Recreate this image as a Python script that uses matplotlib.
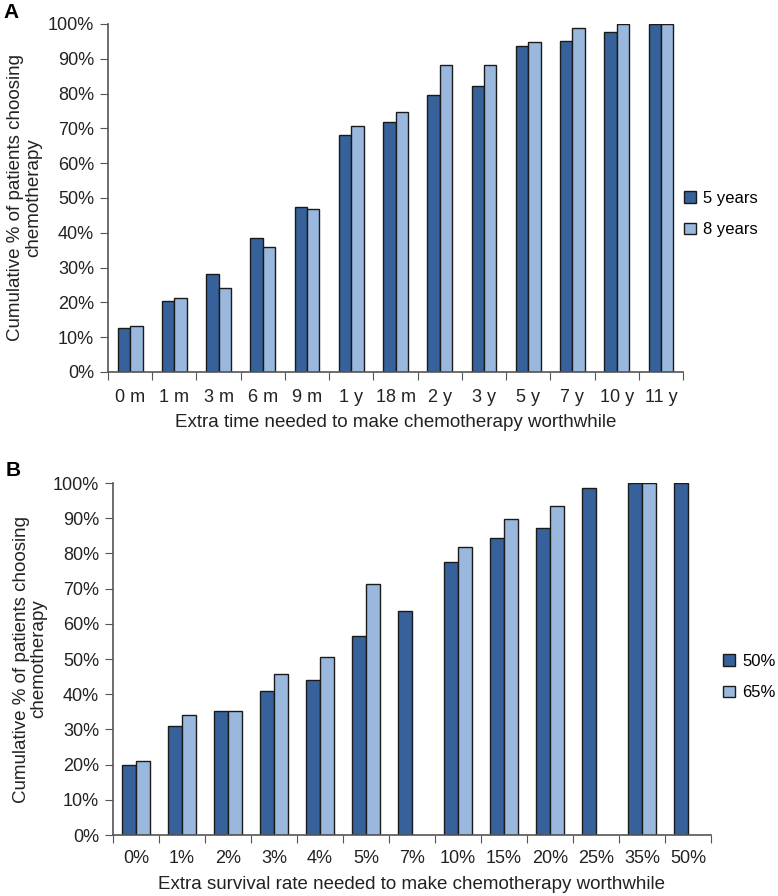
import numpy as np
import matplotlib.pyplot as plt

plt.rcParams['font.family'] = ['Liberation Sans', 'DejaVu Sans']

# Panel A
cats_a = ['0 m', '1 m', '3 m', '6 m', '9 m', '1 y', '18 m', '2 y', '3 y', '5 y', '7 y', '10 y', '11 y']
five_years = [12.7, 20.5, 28.2, 38.5, 47.4, 68.0, 71.8, 79.6, 82.2, 93.8, 95.0, 97.6, 100]
eight_years = [13.2, 21.3, 24.0, 36.0, 46.8, 70.8, 74.8, 88.1, 88.1, 94.8, 98.9, 100, 100]

# Panel B (None = no bar)
cats_b = ['0%', '1%', '2%', '3%', '4%', '5%', '7%', '10%', '15%', '20%', '25%', '35%', '50%']
rate_50 = [19.9, 31.1, 35.3, 41.0, 44.0, 56.4, 63.5, 77.5, 84.5, 87.3, 98.6, 100, 100]
rate_65 = [21.0, 34.0, 35.3, 45.6, 50.7, 71.4, None, 81.8, 89.7, 93.5, None, 100, None]

dark = '#36619a'
light = '#9ab8de'
edge = '#1a1a1a'
txt = '#222222'
ylab = 'Cumulative % of patients choosing\nchemotherapy'


def panel(ax, cats, s1, s2, names, xlabel, bw, tickpad, xlabpad, ylab_x, leg_xy):
    x = np.arange(len(cats))
    v1 = np.array([np.nan if v is None else v for v in s1], dtype=float)
    v2 = np.array([np.nan if v is None else v for v in s2], dtype=float)
    ax.bar(x - bw / 2, v1, bw, color=dark, edgecolor=edge, linewidth=1.0, label=names[0])
    ax.bar(x + bw / 2, v2, bw, color=light, edgecolor=edge, linewidth=1.0, label=names[1])
    ax.set_xlim(-0.5, len(cats) - 0.5)
    ax.set_ylim(0, 100)
    ax.set_yticks(np.arange(0, 101, 10))
    ax.set_yticklabels([f'{v}%' for v in range(0, 101, 10)], fontsize=13, color=txt)
    ax.set_xticks(np.arange(-0.5, len(cats), 1))
    ax.set_xticklabels([])
    ax.set_xticks(x, minor=True)
    ax.set_xticklabels(cats, minor=True, fontsize=13, color=txt)
    ax.tick_params(axis='x', which='major', length=6, color='#555555', direction='out')
    ax.tick_params(axis='x', which='minor', length=0, pad=tickpad)
    ax.tick_params(axis='y', length=6, color='#555555', direction='out', pad=4)
    for s in ['top', 'right']:
        ax.spines[s].set_visible(False)
    for s in ['left', 'bottom']:
        ax.spines[s].set_color('#555555')
        ax.spines[s].set_linewidth(1.2)
    ax.set_xlabel(xlabel, fontsize=13.5, color=txt, labelpad=xlabpad)
    ax.set_ylabel(ylab, fontsize=13.5, color=txt, linespacing=1.05)
    ax.yaxis.set_label_coords(ylab_x, 0.5)
    fig.legend(handles=ax.containers, labels=names, loc='center left',
               bbox_to_anchor=leg_xy, frameon=False, fontsize=12,
               handlelength=0.7, handleheight=0.7, handletextpad=0.45,
               labelspacing=1.0, borderpad=0, borderaxespad=0)


fig = plt.figure(figsize=(7.78, 8.96), dpi=100)
ax1 = fig.add_axes([108 / 778, 1 - 372 / 896, 575 / 778, 348 / 896])
ax2 = fig.add_axes([113 / 778, 1 - 835 / 896, 598 / 778, 352 / 896])

panel(ax1, cats_a, five_years, eight_years, ['5 years', '8 years'],
      'Extra time needed to make chemotherapy worthwhile', 0.28,
      12, 6, -0.115, (684 / 778, 1 - 214 / 896))
panel(ax2, cats_b, rate_50, rate_65, ['50%', '65%'],
      'Extra survival rate needed to make chemotherapy worthwhile', 0.30,
      10.5, 7, -0.110, (723 / 778, 1 - 677 / 896))

fig.text(3 / 778, 1 - 3 / 896, 'A', fontsize=15, fontweight='bold', va='top')
fig.text(6 / 778, 1 - 461 / 896, 'B', fontsize=15, fontweight='bold', va='top')

fig.savefig('out.png', dpi=100)
